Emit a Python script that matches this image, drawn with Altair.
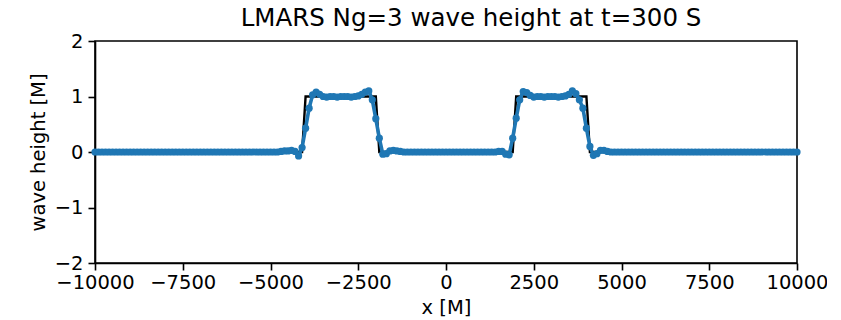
import altair as alt
import pandas as pd

# grid of the numerical solution (dx = 100 m)
x_grid = list(range(-10000, 10001, 100))

# numerical wave height (LMARS, Ng=3)
h_num = [
    0.0, 0.0, 0.0, 0.0, 0.0, 0.0, 0.0, 0.0, 0.0, 0.0,
    0.0, 0.0, 0.0, 0.0, 0.0, 0.0, 0.0, 0.0, 0.0, 0.0,
    0.0, 0.0, 0.0, 0.0, 0.0, 0.0, 0.0, 0.0, 0.0, 0.0,
    0.0, 0.0, 0.0, 0.0, 0.0, 0.0, 0.0, 0.0, 0.0, 0.0,
    0.0, 0.0, 0.0, 0.0, 0.0, 0.0, 0.0, 0.0, 0.0, 0.0,
    0.0, 0.0, 0.0, 0.01, 0.02, 0.02, 0.03, 0.01, -0.07, 0.08,
    0.43, 0.79, 1.03, 1.08, 1.04, 1.0, 0.99, 1.0, 1.0, 0.99,
    1.0, 1.0, 1.0, 0.99, 1.0, 1.01, 1.04, 1.08, 1.1, 0.94,
    0.6, 0.25, -0.04, -0.03, 0.02, 0.03, 0.02, 0.01, 0.0, 0.0,
    0.0, 0.0, 0.0, 0.0, 0.0, 0.0, 0.0, 0.0, 0.0, 0.0,
    0.0, 0.0, 0.0, 0.0, 0.0, 0.0, 0.0, 0.0, 0.0, 0.0,
    0.0, 0.0, 0.0, 0.0, 0.0, 0.01, 0.01, -0.04, -0.05, 0.25,
    0.61, 0.94, 1.09, 1.07, 1.02, 0.99, 1.0, 1.0, 0.99, 1.0,
    1.0, 1.0, 0.99, 1.0, 1.01, 1.04, 1.1, 1.05, 0.94, 0.79,
    0.43, 0.1, -0.06, -0.03, 0.03, 0.03, 0.01, 0.0, 0.0, 0.0,
    0.0, 0.0, 0.0, 0.0, 0.0, 0.0, 0.0, 0.0, 0.0, 0.0,
    0.0, 0.0, 0.0, 0.0, 0.0, 0.0, 0.0, 0.0, 0.0, 0.0,
    0.0, 0.0, 0.0, 0.0, 0.0, 0.0, 0.0, 0.0, 0.0, 0.0,
    0.0, 0.0, 0.0, 0.0, 0.0, 0.0, 0.0, 0.0, 0.0, 0.0,
    0.0, 0.0, 0.0, 0.0, 0.0, 0.0, 0.0, 0.0, 0.0, 0.0,
    0.0,
]

# exact solution (polyline vertices)
exact_x = [-10000, -4100, -4000, -2000, -1900, 1900, 2000, 4000, 4100, 10000]
exact_y = [0, 0, 1, 1, 0, 0, 1, 1, 0, 0]

x_ticks = [-10000, -7500, -5000, -2500, 0, 2500, 5000, 7500, 10000]
y_ticks = [-2, -1, 0, 1, 2]

num_df = pd.DataFrame({"x": x_grid, "h": h_num})
exact_df = pd.DataFrame({"x": exact_x, "h": exact_y, "order": list(range(len(exact_x)))})

FONT = "DejaVu Sans"

x_enc = alt.X(
    "x:Q",
    scale=alt.Scale(domain=[-10000, 10000], nice=False, zero=False),
    axis=alt.Axis(values=x_ticks, title="x [M]", format="d"),
)
y_enc = alt.Y(
    "h:Q",
    scale=alt.Scale(domain=[-2, 2], nice=False),
    axis=alt.Axis(values=y_ticks, title="wave height [M]", format="d"),
)

exact = alt.Chart(exact_df).mark_line(color="black", strokeWidth=2.4).encode(
    x=x_enc, y=y_enc, order="order:Q"
)
num_line = alt.Chart(num_df).mark_line(color="#1f77b4", strokeWidth=3.6).encode(
    x=x_enc, y=y_enc
)
num_pts = alt.Chart(num_df).mark_circle(color="#1f77b4", size=52, opacity=1).encode(
    x=x_enc, y=y_enc
)

chart = (
    alt.layer(exact, num_line, num_pts)
    .properties(
        width=702,
        height=222,
        title=alt.Title(
            "LMARS Ng=3 wave height at t=300 S",
            font=FONT,
            fontSize=24.5,
            fontWeight="normal",
            color="black",
            anchor="middle",
            offset=0,
            dx=25,
        ),
        autosize=alt.AutoSizeParams(type="none"),
        padding={"left": 87, "top": 33, "right": 30, "bottom": 56},
    )
    .configure_view(stroke="black", strokeWidth=1.6)
    .configure_axis(
        grid=False,
        domainColor="black",
        domainWidth=1.6,
        tickColor="black",
        tickWidth=1.6,
        tickSize=7,
        labelFont=FONT,
        labelFontSize=19.5,
        labelColor="black",
        titleFont=FONT,
        titleFontSize=19.5,
        titleFontWeight="normal",
        titleColor="black",
        labelFlush=False,
        labelOverlap=False,
    )
    .configure_axisX(labelPadding=3, titlePadding=7)
    .configure_axisY(labelPadding=5, titlePadding=6)
)

chart.save("out.html", embed_options={"renderer": "svg", "actions": False})
